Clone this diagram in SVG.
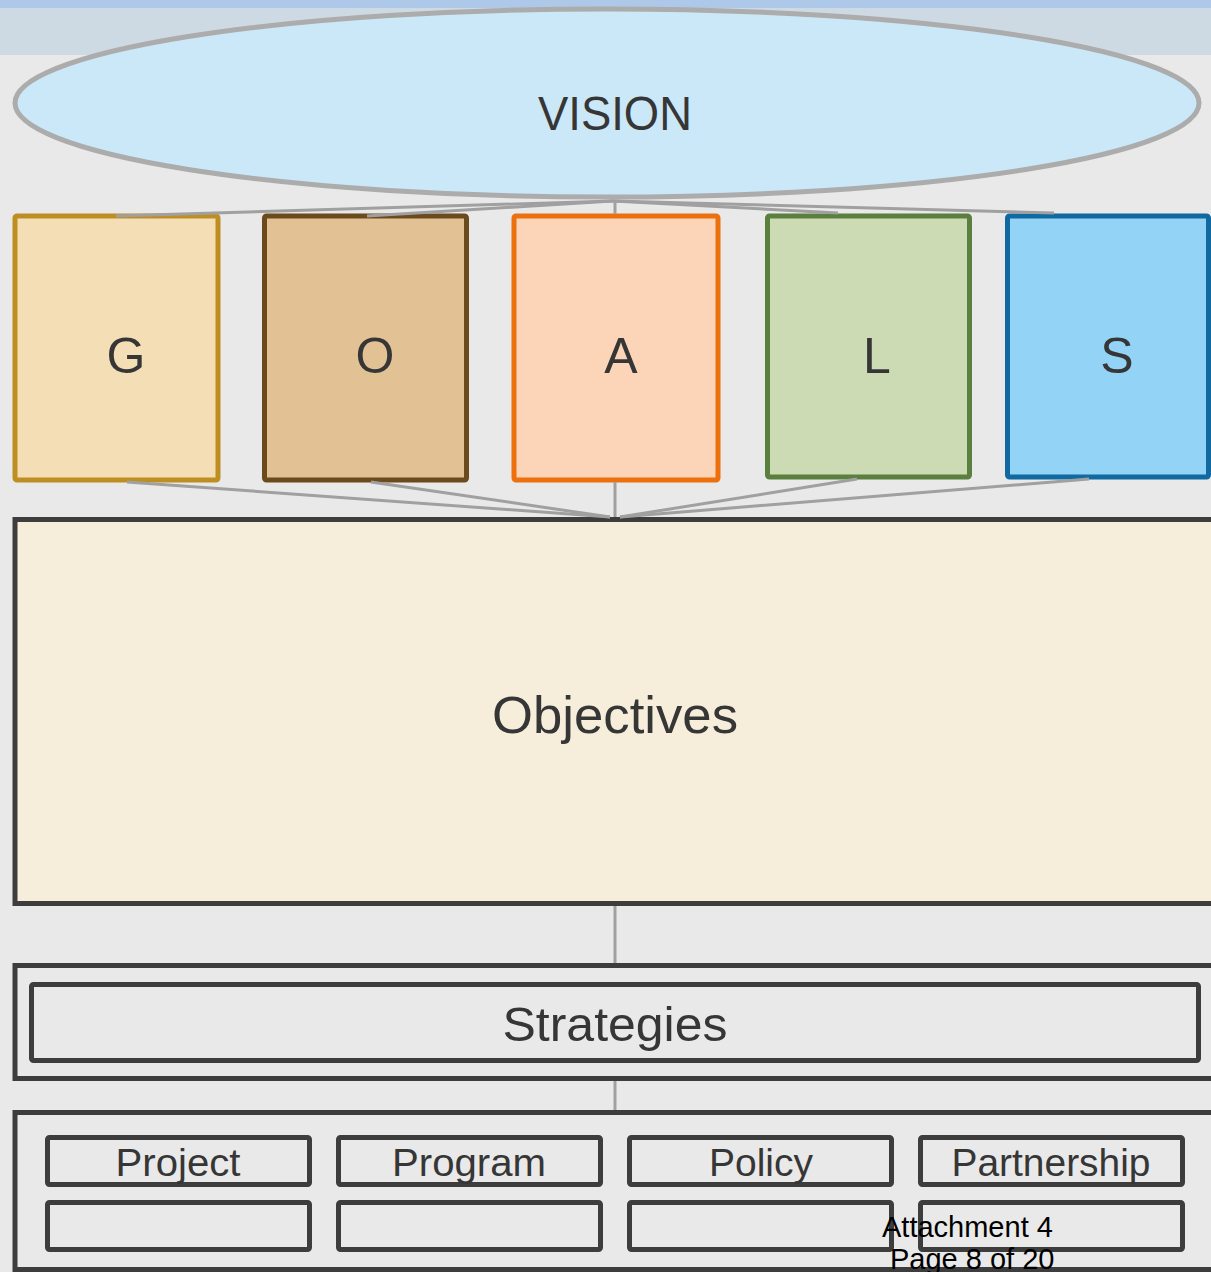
<svg xmlns="http://www.w3.org/2000/svg" width="1211" height="1272" viewBox="0 0 1211 1272">
<style>
.lbl{font-family:"Liberation Sans",Arial,sans-serif;fill:#363636;text-anchor:middle}
.box{stroke-width:5}
.dk{fill:none;stroke:#3d3d3d;stroke-width:5}
.con{stroke:#a0a0a0;stroke-width:3;fill:none}
</style>
<rect x="0" y="0" width="1211" height="1272" fill="#e9e9e9"/>
<rect x="0" y="0" width="1211" height="8" fill="#adc8e8"/>
<rect x="0" y="8" width="1211" height="47" fill="#cdd9e3"/>

<g id="vision">
<ellipse cx="607" cy="103" rx="592" ry="94" fill="#cbe8f8" stroke="#acacac" stroke-width="5"/>
<text class="lbl" x="615" y="130" font-size="48" textLength="154" lengthAdjust="spacingAndGlyphs">VISION</text>
</g>

<g id="goal-G">
<rect class="box" x="15" y="216" width="203" height="264" rx="2" fill="#f3deb5" stroke="#be8e22"/>
<text class="lbl" x="126" y="373" font-size="50">G</text>
</g>
<g id="goal-O">
<rect class="box" x="264.500" y="216" width="202" height="264" rx="2" fill="#e2c195" stroke="#6b4a1e"/>
<text class="lbl" x="375" y="373" font-size="50">O</text>
</g>
<g id="goal-A">
<rect class="box" x="514" y="216" width="204" height="264" rx="2" fill="#fcd4b8" stroke="#ec700e"/>
<text class="lbl" x="621" y="373" font-size="50">A</text>
</g>
<g id="goal-L">
<rect class="box" x="767.500" y="216" width="202" height="261" rx="2" fill="#cddbb5" stroke="#5b7f3e"/>
<text class="lbl" x="877" y="373" font-size="50">L</text>
</g>
<g id="goal-S">
<rect class="box" x="1007.500" y="216" width="201" height="261" rx="2" fill="#93d3f5" stroke="#1069a0"/>
<text class="lbl" x="1117" y="373" font-size="50">S</text>
</g>

<g id="objectives">
<rect x="15" y="519.500" width="1220" height="384" fill="#f6eedb" stroke="#3d3d3d" stroke-width="5"/>
<text class="lbl" x="615" y="733" font-size="52" textLength="246" lengthAdjust="spacingAndGlyphs">Objectives</text>
</g>

<g id="strategies">
<rect x="15" y="965.500" width="1220" height="113" fill="#e9e9e9" stroke="#3d3d3d" stroke-width="5"/>
<rect class="dk" x="31.500" y="984.500" width="1167" height="76" rx="2"/>
<text class="lbl" x="615" y="1041" font-size="48" textLength="225" lengthAdjust="spacingAndGlyphs">Strategies</text>
</g>

<g id="actions">
<rect x="15" y="1112.500" width="1220" height="157" fill="#e9e9e9" stroke="#3d3d3d" stroke-width="5"/>
</g>
<g id="project">
<rect class="dk" x="47.500" y="1137.500" width="262" height="47" rx="2"/>
<text class="lbl" x="178" y="1176" font-size="38" textLength="125" lengthAdjust="spacingAndGlyphs">Project</text>
</g>
<g id="program">
<rect class="dk" x="338.500" y="1137.500" width="262" height="47" rx="2"/>
<text class="lbl" x="469" y="1176" font-size="38" textLength="154" lengthAdjust="spacingAndGlyphs">Program</text>
</g>
<g id="policy">
<rect class="dk" x="629.500" y="1137.500" width="262" height="47" rx="2"/>
<text class="lbl" x="761" y="1176" font-size="38" textLength="104" lengthAdjust="spacingAndGlyphs">Policy</text>
</g>
<g id="partnership">
<rect class="dk" x="920.500" y="1137.500" width="262" height="47" rx="2"/>
<text class="lbl" x="1051" y="1176" font-size="38" textLength="199" lengthAdjust="spacingAndGlyphs">Partnership</text>
</g>
<g id="project-2"><rect class="dk" x="47.500" y="1202.500" width="262" height="47" rx="2"/></g>
<g id="program-2"><rect class="dk" x="338.500" y="1202.500" width="262" height="47" rx="2"/></g>
<g id="policy-2"><rect class="dk" x="629.500" y="1202.500" width="262" height="47" rx="2"/></g>
<g id="partnership-2"><rect class="dk" x="920.500" y="1202.500" width="262" height="47" rx="2"/></g>

<g id="connectors">
<line class="con" x1="613" y1="201" x2="116" y2="216"/>
<line class="con" x1="613" y1="201" x2="367" y2="216"/>
<line class="con" x1="613" y1="201" x2="838" y2="213"/>
<line class="con" x1="613" y1="201" x2="1054" y2="213"/>
<line class="con" x1="615" y1="200" x2="615" y2="214" stroke-width="4"/>
<line class="con" x1="127" y1="482" x2="610" y2="517"/>
<line class="con" x1="371" y1="482" x2="610" y2="517"/>
<line class="con" x1="615" y1="482" x2="615" y2="517"/>
<line class="con" x1="857" y1="479" x2="620" y2="517"/>
<line class="con" x1="1089" y1="479" x2="620" y2="517"/>
<line class="con" x1="615" y1="906" x2="615" y2="963"/>
<line class="con" x1="615" y1="1081" x2="615" y2="1110"/>
</g>

<g id="footer" font-family="'Liberation Sans',Arial,sans-serif" font-size="29" fill="#000">
<text x="882" y="1237">Attachment 4</text>
<text x="890" y="1269">Page 8 of 20</text>
</g>
</svg>
